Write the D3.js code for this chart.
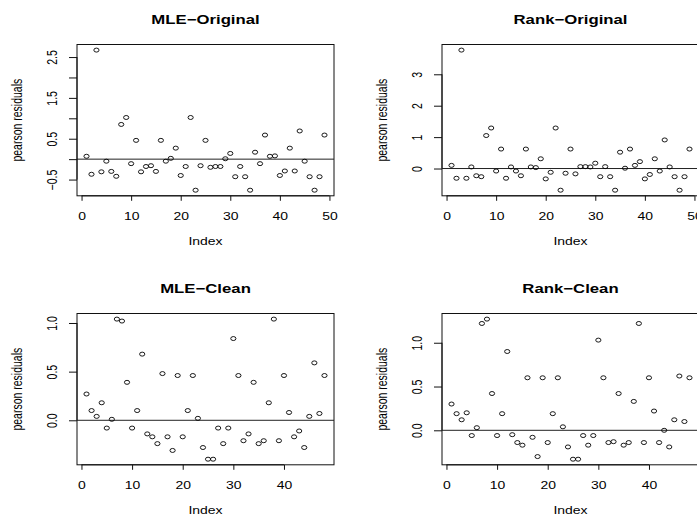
<!DOCTYPE html>
<html>
<head>
<meta charset="utf-8">
<script src="https://cdn.jsdelivr.net/npm/d3@7"></script>
<style>
  body { margin: 0; background: #fff; }
  svg { display: block; font-family: "Liberation Sans", Arial, sans-serif; }
</style>
</head>
<body>
<svg id="chart" width="697" height="516"></svg>
<script>
// ====================================
// Données (résidus de Pearson)
// ====================================
const mleOriginal = [
    0.07, -0.37, 2.67, -0.31, -0.05, -0.30, -0.42, 0.85, 1.02, -0.11,
    0.46, -0.31, -0.18, -0.16, -0.30, 0.46, -0.05, 0.02, 0.27, -0.40,
    -0.18, 1.02, -0.76, -0.16, 0.46, -0.20, -0.18, -0.18, 0.01, 0.14,
    -0.43, -0.18, -0.43, -0.76, 0.17, -0.11, 0.59, 0.07, 0.08, -0.40,
    -0.29, 0.27, -0.29, 0.69, -0.05, -0.43, -0.76, -0.43, 0.59
];
const rankOriginal = [
    0.10, -0.31, 3.77, -0.31, 0.05, -0.23, -0.26, 1.05, 1.29, -0.08,
    0.62, -0.31, 0.05, -0.08, -0.23, 0.62, 0.05, 0.03, 0.31, -0.33,
    -0.12, 1.29, -0.69, -0.15, 0.62, -0.17, 0.06, 0.06, 0.05, 0.17,
    -0.26, 0.06, -0.26, -0.69, 0.52, 0.01, 0.62, 0.10, 0.22, -0.33,
    -0.19, 0.31, -0.08, 0.91, 0.05, -0.26, -0.69, -0.26, 0.62
];
const mleClean = [
    0.27, 0.10, 0.04, 0.18, -0.08, 0.01, 1.04, 1.02, 0.39, -0.08,
    0.10, 0.68, -0.14, -0.17, -0.24, 0.48, -0.17, -0.31, 0.46, -0.17,
    0.10, 0.46, 0.02, -0.28, -0.40, -0.40, -0.08, -0.24, -0.08, 0.84,
    0.46, -0.21, -0.14, 0.39, -0.24, -0.21, 0.18, 1.04, -0.21, 0.46,
    0.08, -0.17, -0.11, -0.28, 0.04, 0.59, 0.07, 0.46
];
const rankClean = [
    0.30, 0.19, 0.12, 0.20, -0.06, 0.03, 1.22, 1.27, 0.42, -0.06,
    0.19, 0.90, -0.05, -0.14, -0.17, 0.60, -0.08, -0.30, 0.60, -0.14,
    0.19, 0.60, 0.04, -0.19, -0.33, -0.33, -0.06, -0.17, -0.06, 1.03,
    0.60, -0.14, -0.13, 0.42, -0.17, -0.14, 0.33, 1.22, -0.14, 0.60,
    0.22, -0.14, 0.00, -0.19, 0.12, 0.62, 0.10, 0.60
];

const panelTitles = ["MLE\u2212Original", "Rank\u2212Original", "MLE\u2212Clean", "Rank\u2212Clean"];

const xTicksOriginal = [0, 10, 20, 30, 40, 50];
const xTicksClean = [0, 10, 20, 30, 40];

const yTicksMleOriginal = [-0.5, 0, 0.5, 1, 1.5, 2, 2.5];
const yLabelsMleOriginal = ["\u22120.5", "", "0.5", "", "1.5", "", "2.5"];
const yTicksRankOriginal = [0, 1, 2, 3];
const yLabelsRankOriginal = ["0", "1", "2", "3"];
const yTicksClean = [0, 0.5, 1];
const yLabelsClean = ["0.0", "0.5", "1.0"];

const xLabel = "Index";
const yLabel = "pearson residuals";

// ====================================
// Mise en page
// ====================================
const stretch = 1.33;            // l'image d'origine est étirée horizontalement
const panelStepX = 365, panelStepY = 269;
const box = { left: 77, right: 334, top: 44.5, bottom: 195.8 };

const panels = [
    { title: panelTitles[0], values: mleOriginal, xTicks: xTicksOriginal, yTicks: yTicksMleOriginal, yLabels: yLabelsMleOriginal, col: 0, row: 0 },
    { title: panelTitles[1], values: rankOriginal, xTicks: xTicksOriginal, yTicks: yTicksRankOriginal, yLabels: yLabelsRankOriginal, col: 1, row: 0 },
    { title: panelTitles[2], values: mleClean, xTicks: xTicksClean, yTicks: yTicksClean, yLabels: yLabelsClean, col: 0, row: 1 },
    { title: panelTitles[3], values: rankClean, xTicks: xTicksClean, yTicks: yTicksClean, yLabels: yLabelsClean, col: 1, row: 1 }
];

const svg = d3.select("#chart");

/**
 * Étend un domaine de 4 % de chaque côté (comme R)
 */
function padded(lo, hi) {
    const pad = (hi - lo) * 0.04;
    return [lo - pad, hi + pad];
}

/**
 * Dessine un panneau complet
 */
function drawPanel(p) {
    const g = svg.append("g")
        .attr("transform", `translate(${p.col * panelStepX},${p.row * panelStepY})`);

    const x = d3.scaleLinear()
        .domain(padded(1, p.values.length))
        .range([box.left, box.right]);
    const y = d3.scaleLinear()
        .domain(padded(d3.min(p.values), d3.max(p.values)))
        .range([box.bottom, box.top]);

    // Cadre
    g.append("rect")
        .attr("x", box.left)
        .attr("y", box.top)
        .attr("width", box.right - box.left)
        .attr("height", box.bottom - box.top)
        .attr("fill", "none")
        .attr("stroke", "#111")
        .attr("stroke-width", 1);

    // Ligne horizontale à zéro
    g.append("line")
        .attr("x1", box.left)
        .attr("x2", box.right)
        .attr("y1", y(0))
        .attr("y2", y(0))
        .attr("stroke", "#222")
        .attr("stroke-width", 1);

    // Axe X
    const xAxis = g.append("g")
        .attr("transform", `translate(0,${box.bottom})`)
        .call(d3.axisBottom(x).tickValues(p.xTicks).tickSize(5).tickPadding(11.7).tickFormat(d3.format("d")));
    xAxis.select(".domain").remove();
    xAxis.append("line")
        .attr("x1", x(p.xTicks[0]))
        .attr("x2", x(p.xTicks[p.xTicks.length - 1]))
        .attr("stroke", "#111");
    xAxis.selectAll(".tick line").attr("stroke", "#111");
    xAxis.selectAll(".tick text")
        .attr("fill", "#000")
        .attr("font-size", 10.5)
        .attr("transform", `scale(${stretch},1)`);

    // Axe Y
    const yAxis = g.append("g")
        .attr("transform", `translate(${box.left},0)`)
        .call(d3.axisLeft(y).tickValues(p.yTicks).tickSize(8).tickFormat((d, i) => p.yLabels[i]));
    yAxis.select(".domain").remove();
    yAxis.append("line")
        .attr("y1", y(p.yTicks[0]))
        .attr("y2", y(p.yTicks[p.yTicks.length - 1]))
        .attr("stroke", "#111");
    yAxis.selectAll(".tick line").attr("stroke", "#111");
    yAxis.selectAll(".tick text")
        .attr("fill", "#000")
        .attr("font-size", 10.5)
        .attr("x", 0)
        .attr("dy", 0)
        .attr("text-anchor", "middle")
        .attr("transform", `translate(-20,0) scale(${stretch},1) rotate(-90)`);

    // Points
    g.selectAll(".pt")
        .data(p.values)
        .join("ellipse")
        .attr("class", "pt")
        .attr("cx", (d, i) => x(i + 1))
        .attr("cy", d => y(d))
        .attr("rx", 2.6)
        .attr("ry", 2.0)
        .attr("fill", "none")
        .attr("stroke", "#000")
        .attr("stroke-width", 0.9);

    const cx = (box.left + box.right) / 2;
    const cy = (box.top + box.bottom) / 2;

    // Titre
    g.append("text")
        .attr("transform", `translate(${cx},23.5) scale(${stretch},1)`)
        .attr("text-anchor", "middle")
        .attr("font-size", 12.6)
        .attr("font-weight", "bold")
        .text(p.title);

    // Libellés des axes
    g.append("text")
        .attr("transform", `translate(${cx},245) scale(${stretch},1)`)
        .attr("text-anchor", "middle")
        .attr("font-size", 10.5)
        .text(xLabel);

    g.append("text")
        .attr("transform", `translate(22,${cy}) scale(${stretch},1) rotate(-90)`)
        .attr("text-anchor", "middle")
        .attr("font-size", 10.5)
        .text(yLabel);
}

panels.forEach(drawPanel);
</script>
</body>
</html>
